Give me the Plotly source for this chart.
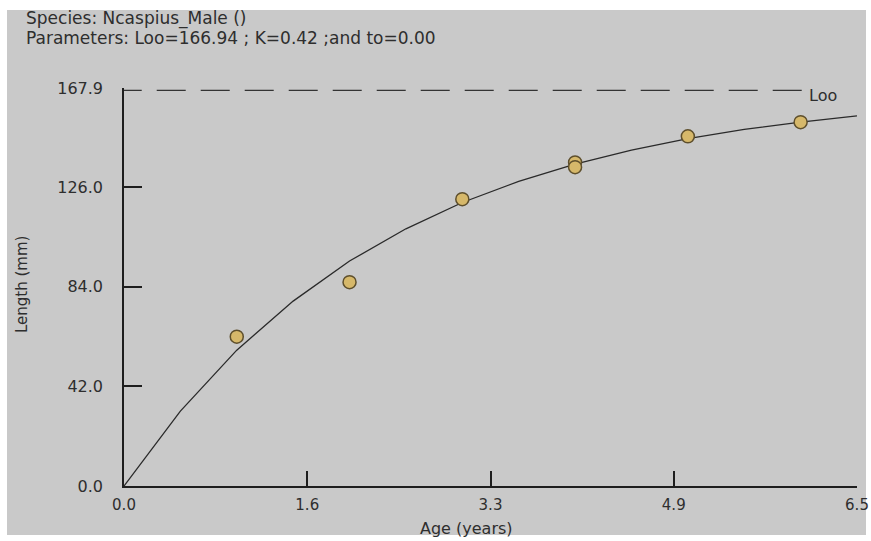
import plotly.graph_objects as go

# ---- data ----
obs_age = [1, 2, 3, 4, 4, 5, 6]
obs_len = [63.0, 86.0, 121.0, 136.5, 134.5, 147.5, 153.5]

curve_age = [0, 0.5, 1, 1.5, 2, 2.5, 3, 3.5, 4, 4.5, 5, 5.5, 6, 6.5]
curve_len = [0, 31.6, 57.3, 78.0, 94.9, 108.5, 119.6, 128.5, 135.8, 141.7, 146.5, 150.4, 153.5, 156.1]

loo = 166.94
x_tickvals = [0, 1.625, 3.25, 4.875, 6.5]
x_ticktext = ["0.0", "1.6", "3.3", "4.9", "6.5"]
y_tickvals = [0, 42, 84, 126, 167.9]
y_ticktext = ["0.0", "42.0", "84.0", "126.0", "167.9"]

title_lines = ["Species: Ncaspius_Male ()",
               "Parameters: Loo=166.94 ; K=0.42 ;and to=0.00"]

# ---- layout geometry (pixels) ----
W, H = 871, 541
L, R, T, B = 124, 857, 88, 486


def px(x):
    return (x - L) / (R - L)


def py(y):
    return (B - y) / (B - T)


FONT = "DejaVu Sans, Verdana, sans-serif"
TXT = "#2e2e2e"

fig = go.Figure()

# Loo dashed line
fig.add_trace(go.Scatter(
    x=[-0.1, 6.05], y=[loo, loo], mode="lines",
    line=dict(color="#333333", width=1.3, dash="29px,15px"),
    hoverinfo="skip", showlegend=False))

# fitted curve
fig.add_trace(go.Scatter(
    x=curve_age, y=curve_len, mode="lines",
    line=dict(color="#2a2a2a", width=1.3),
    showlegend=False))

# observed points
fig.add_trace(go.Scatter(
    x=obs_age, y=obs_len, mode="markers",
    marker=dict(size=13, color="#d6b86a",
                line=dict(color="#5e4f2c", width=1.5)),
    showlegend=False))

fig.update_layout(
    width=W, height=H,
    margin=dict(l=L, r=W - R, t=T, b=H - B, autoexpand=False),
    paper_bgcolor="white",
    plot_bgcolor="rgba(0,0,0,0)",
    font=dict(family=FONT, color=TXT, size=16),
    xaxis=dict(range=[0, 6.5], showgrid=False, zeroline=False,
               automargin=False,
               showline=True, linecolor="#1e1e1e", linewidth=1.5,
               tickvals=x_tickvals, ticktext=x_ticktext,
               ticks="inside", ticklen=15, tickwidth=1.5, tickcolor="#1e1e1e",
               ticklabelstandoff=4,
               tickfont=dict(size=15, color=TXT, family=FONT)),
    yaxis=dict(range=[0, 167.9], showgrid=False, zeroline=False,
               automargin=False,
               showline=True, linecolor="#1e1e1e", linewidth=1.5,
               tickvals=y_tickvals, ticktext=y_ticktext,
               ticks="inside", ticklen=18, tickwidth=1.5, tickcolor="#1e1e1e",
               ticklabelstandoff=16,
               tickfont=dict(size=16, color=TXT, family=FONT)),
    shapes=[dict(type="rect", xref="paper", yref="paper",
                 x0=px(7), x1=px(866), y0=py(535), y1=py(10),
                 fillcolor="#c9c9c9", line=dict(width=0), layer="below")],
    annotations=[
        dict(text=title_lines[0], xref="paper", yref="paper",
             x=px(24), y=py(18), xanchor="left", yanchor="middle",
             showarrow=False, font=dict(size=17, color=TXT, family=FONT)),
        dict(text=title_lines[1], xref="paper", yref="paper",
             x=px(24), y=py(38), xanchor="left", yanchor="middle",
             showarrow=False, font=dict(size=17, color=TXT, family=FONT)),
        dict(text="Loo", xref="x", yref="y", x=6.06, y=loo,
             xanchor="left", yanchor="middle", yshift=-5, showarrow=False,
             font=dict(size=16, color=TXT, family=FONT)),
        dict(text="Length (mm)", xref="paper", yref="paper",
             x=px(22), y=py(285), xanchor="center", yanchor="middle",
             textangle=-90, showarrow=False,
             font=dict(size=15, color=TXT, family=FONT)),
        dict(text="Age (years)", xref="paper", yref="paper",
             x=px(466), y=py(528), xanchor="center", yanchor="middle",
             showarrow=False,
             font=dict(size=16, color=TXT, family=FONT)),
    ],
)

fig.write_html("out.html")
